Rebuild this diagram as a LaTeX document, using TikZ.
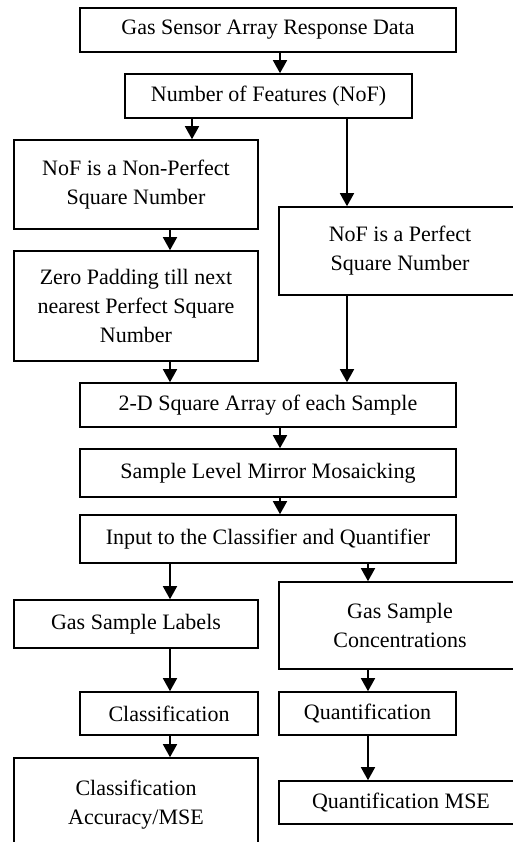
\documentclass[tikz,border=0pt]{standalone}
\usepackage{fontspec}
\setmainfont{Liberation Serif}
\usetikzlibrary{arrows.meta}

\begin{document}
\begin{tikzpicture}[x=1pt,y=-1pt,
  box/.style={draw,line width=1.6pt,font=\fontsize{22}{29}\selectfont,align=center,inner sep=0pt},
  arr/.style={line width=1.6pt,-{Triangle[width=14pt,length=13pt]}}]
\useasboundingbox (0,0) rectangle (513,842);
\coordinate (colA) at (170,0); % left column
\coordinate (colB) at (192,0);
\coordinate (colC) at (280,0); % middle column
\coordinate (colD) at (347,0);
\coordinate (colE) at (368,0); % right column
\node[box,minimum width=376pt,minimum height=44pt] (data) at (268,30) {Gas Sensor Array Response Data}; % Box.0
\node[box,minimum width=287pt,minimum height=44pt] (nof) at (268.5,96) {Number of Features (NoF)}; % Box.1
\node[box,minimum width=244pt,minimum height=89pt] (nonsq) at (136,184.5) {NoF is a Non-Perfect\\Square Number}; % Box.2
\node[box,minimum width=242pt,minimum height=88pt] (sq) at (400,251) {NoF is a Perfect\\Square Number}; % Box.3
\node[box,minimum width=244pt,minimum height=110pt] (pad) at (136,306) {Zero Padding till next\\nearest Perfect Square\\Number}; % Box.4
\node[box,minimum width=376pt,minimum height=44pt] (arr2d) at (268,405) {2-D Square Array of each Sample}; % Box.5
\node[box,minimum width=376pt,minimum height=48pt] (mosaic) at (268,473) {Sample Level Mirror Mosaicking}; % Box.6
\node[box,minimum width=376pt,minimum height=48pt] (input) at (268,539) {Input to the Classifier and Quantifier}; % Box.7
\node[box,minimum width=244pt,minimum height=48pt] (labels) at (136,624) {Gas Sample Labels}; % Box.8
\node[box,minimum width=242pt,minimum height=87pt] (conc) at (400,625.5) {Gas Sample\\Concentrations}; % Box.9
\node[box,minimum width=178pt,minimum height=43pt] (classif) at (169,713.5) {Classification}; % Box.10
\node[box,minimum width=177pt,minimum height=43pt] (quant) at (367.5,713.5) {Quantification}; % Box.11
\node[box,minimum width=244pt,minimum height=117pt] (accmse) at (136,816.5) {Classification\\Accuracy/MSE\\\mbox{}}; % Box.12
\node[box,minimum width=244pt,minimum height=43pt] (quantmse) at (401,802.5) {Quantification MSE}; % Box.13

\draw[arr] (data.south -| colC) -- (nof.north -| colC) ;
\draw[arr] (nof.south -| colB) -- (nonsq.north -| colB) ;
\draw[arr] (nof.south -| colD) -- (sq.north -| colD) ;
\draw[arr] (nonsq.south -| colA) -- (pad.north -| colA) ;
\draw[arr] (pad.south -| colA) -- (arr2d.north -| colA) ;
\draw[arr] (sq.south -| colD) -- (arr2d.north -| colD) ;
\draw[arr] (arr2d.south -| colC) -- (mosaic.north -| colC) ;
\draw[arr] (mosaic.south -| colC) -- (input.north -| colC) ;
\draw[arr] (input.south -| colA) -- (labels.north -| colA) ;
\draw[arr] (input.south -| colE) -- (conc.north -| colE) ;
\draw[arr] (labels.south -| colA) -- (classif.north -| colA) ;
\draw[arr] (conc.south -| colE) -- (quant.north -| colE) ;
\draw[arr] (classif.south -| colA) -- (accmse.north -| colA) ;
\draw[arr] (quant.south -| colE) -- (quantmse.north -| colE) ;

\end{tikzpicture}
\end{document}
